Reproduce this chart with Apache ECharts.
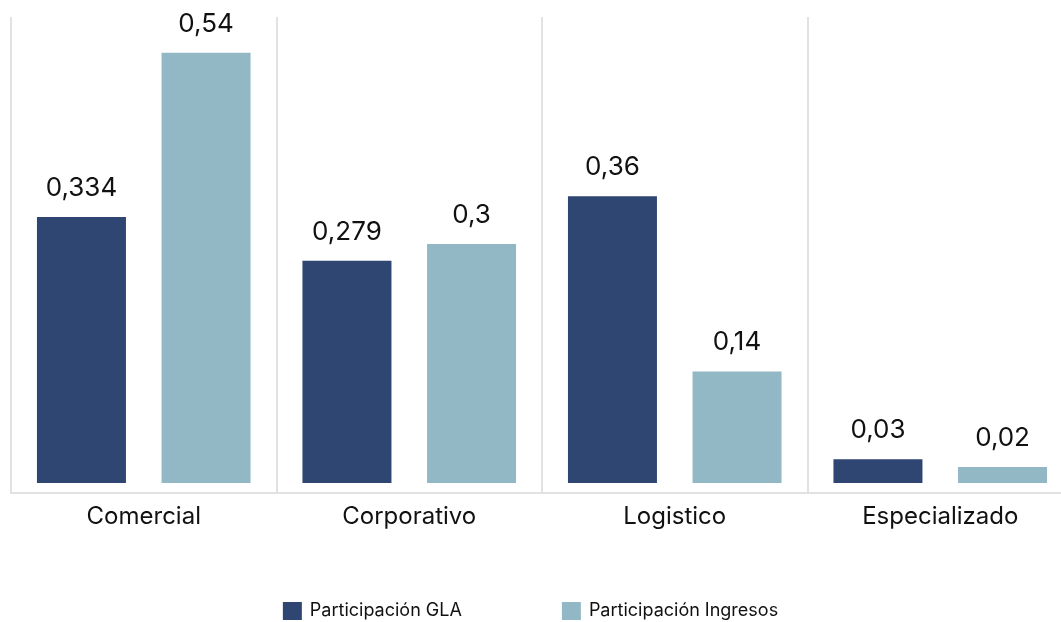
<!DOCTYPE html>
<html><head><meta charset="utf-8">
<script src="https://cdn.jsdelivr.net/npm/echarts@6/dist/echarts.min.js"></script>
<style>html,body{margin:0;padding:0;background:#fff}#c{width:1061px;height:622px}</style>
</head><body><div id="c"></div>
<script>
const categories = ['Comercial', 'Corporativo', 'Logistico', 'Especializado'];
const seriesNames = ['Participación GLA', 'Participación Ingresos'];
const glaValues = [0.334, 0.279, 0.36, 0.03];
const ingresosValues = [0.54, 0.3, 0.14, 0.02];

const chart = echarts.init(document.getElementById('c'));
const fmt = p => String(p.value).replace('.', ',');
const labelStyle = { show: true, position: 'top', distance: 16, fontSize: 26, color: '#111', fontFamily: 'Inter', formatter: fmt };
chart.setOption({
  animation: false,
  textStyle: { fontFamily: 'Inter' },
  grid: { left: 11, width: 1062, top: 17, height: 476, containLabel: false, outerBoundsMode: 'none' },
  legend: {
    top: 597, left: 'center', itemWidth: 19, itemHeight: 18, itemGap: 100,
    icon: 'rect',
    textStyle: { fontSize: 18, color: '#111', fontFamily: 'Inter', padding: [0, 0, 0, 3] },
    data: seriesNames
  },
  xAxis: {
    type: 'category', data: categories,
    axisLine: { show: true, onZero: false, lineStyle: { color: '#d9d9d9', width: 1.5 } },
    axisTick: { show: false },
    splitLine: { show: true, lineStyle: { color: '#d9d9d9', width: 1.5 } },
    axisLabel: { fontSize: 24, color: '#111', margin: 12, fontFamily: 'Inter' }
  },
  yAxis: {
    type: 'value', min: -0.0125, max: 0.585, show: false,
    splitLine: { show: false }
  },
  series: [
    { name: seriesNames[0], type: 'bar', data: glaValues, barWidth: 89, barGap: '40%',
      itemStyle: { color: '#2F4572' }, label: labelStyle },
    { name: seriesNames[1], type: 'bar', data: ingresosValues, barWidth: 89, barGap: '40%',
      itemStyle: { color: '#92B8C6' }, label: labelStyle }
  ]
});
</script></body></html>
